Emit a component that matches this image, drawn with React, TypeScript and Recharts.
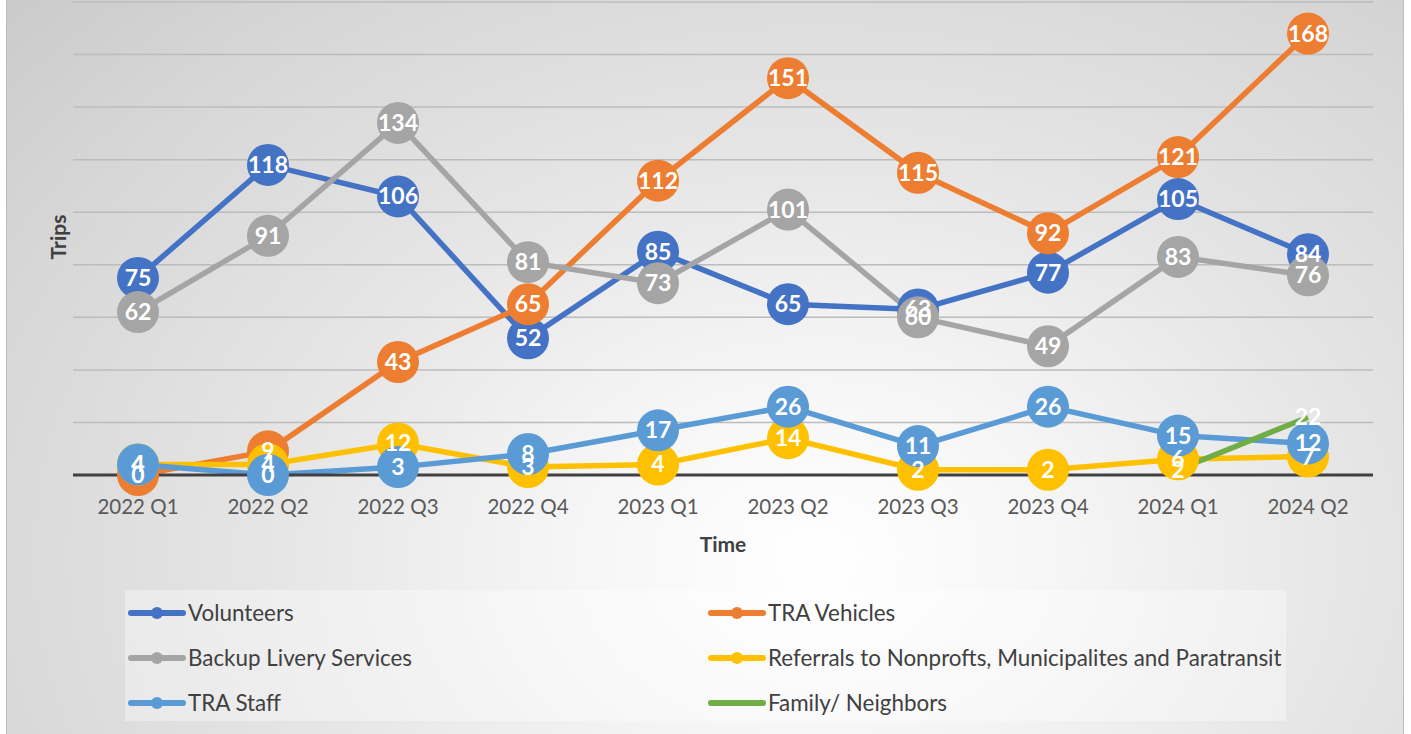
import { CartesianGrid, LabelList, Line, LineChart, XAxis, YAxis } from 'recharts'

const quarters = [
  '2022 Q1', '2022 Q2', '2022 Q3', '2022 Q4', '2023 Q1',
  '2023 Q2', '2023 Q3', '2023 Q4', '2024 Q1', '2024 Q2',
]
const volunteers = [75, 118, 106, 52, 85, 65, 63, 77, 105, 84]
const traVehicles = [0, 9, 43, 65, 112, 151, 115, 92, 121, 168]
const backupLivery = [62, 91, 134, 81, 73, 101, 60, 49, 83, 76]
const referrals = [4, 4, 12, 3, 4, 14, 2, 2, 6, 7]
const traStaff = [4, 0, 3, 8, 17, 26, 11, 26, 15, 12]
const family: (number | null)[] = [null, null, null, null, null, null, null, null, 2, 22]
const yTicks = [0, 20, 40, 60, 80, 100, 120, 140, 160, 180]

const series = [
  { key: 'volunteers', name: 'Volunteers', color: '#4472C4', marker: true },
  { key: 'traVehicles', name: 'TRA Vehicles', color: '#ED7D31', marker: true },
  { key: 'backupLivery', name: 'Backup Livery Services', color: '#A5A5A5', marker: true },
  { key: 'referrals', name: 'Referrals to Nonprofts, Municipalites and Paratransit', color: '#FFC000', marker: true },
  { key: 'traStaff', name: 'TRA Staff', color: '#5B9BD5', marker: true },
  { key: 'family', name: 'Family/ Neighbors', color: '#70AD47', marker: false },
]

const data = quarters.map((q, i) => ({
  q,
  volunteers: volunteers[i],
  traVehicles: traVehicles[i],
  backupLivery: backupLivery[i],
  referrals: referrals[i],
  traStaff: traStaff[i],
  family: family[i],
}))

const FONT = 'Lato, "Open Sans", sans-serif'

function PointLabel(props: any) {
  const { x, y, value } = props
  if (value === null || value === undefined) return null
  return (
    <text
      x={x}
      y={y}
      dy={8}
      textAnchor="middle"
      fill="#ffffff"
      fontSize={23}
      fontWeight={700}
      fontFamily={FONT}
    >
      {value}
    </text>
  )
}

function LegendIcon({ color, marker }: { color: string; marker: boolean }) {
  return (
    <svg width={58} height={12} style={{ marginRight: 2 }}>
      <line x1={3} y1={6} x2={55} y2={6} stroke={color} strokeWidth={6} strokeLinecap="round" />
      {marker && <circle cx={29} cy={6} r={6} fill={color} />}
    </svg>
  )
}

export default function App() {
  return (
    <div style={{ position: 'fixed', left: 0, top: 0, width: 1411, height: 734, background: '#fff', overflow: 'hidden' }}>
      <div
        style={{
          position: 'absolute',
          left: 6,
          top: 0,
          width: 1398,
          height: 734,
          borderLeft: '1.5px solid #bdbdbd',
          borderRight: '1.5px solid #bdbdbd',
          boxSizing: 'border-box',
          background:
            'radial-gradient(ellipse 85% 120% at 58% 76%, #ffffff 0%, #f6f6f6 20%, #e6e6e6 45%, #d6d6d6 75%, #c6c6c6 100%)',
        }}
      />
      <div style={{ position: 'absolute', left: 0, top: 0 }}>
        <LineChart
          width={1411}
          height={734}
          data={data}
          margin={{ top: 2, right: 38, left: 73, bottom: 199 }}
        >
          <CartesianGrid vertical={false} stroke="#bcbcbc" strokeWidth={1.5} />
          <XAxis
            dataKey="q"
            height={60}
            padding={{ left: 65, right: 65 }}
            axisLine={{ stroke: '#404040', strokeWidth: 3 }}
            tickLine={false}
            tickMargin={18}
            tick={{ fill: '#595959', fontSize: 20.5, fontFamily: FONT }}
          />
          <YAxis
            width={0}
            domain={[0, 180]}
            ticks={yTicks}
            tick={() => <g />}
            axisLine={false}
            tickLine={false}
          />
          {series.map((s) => (
            <Line
              key={s.key}
              dataKey={s.key}
              name={s.name}
              stroke={s.color}
              strokeWidth={5.5}
              dot={s.marker ? { r: 21, fill: s.color, stroke: 'none' } : false}
              activeDot={false}
              isAnimationActive={false}
            />
          ))}
          {/* labels drawn on top of every series, like Excel does */}
          {series.map((s) => (
            <Line
              key={s.key + '-labels'}
              dataKey={s.key}
              stroke="none"
              dot={false}
              activeDot={false}
              legendType="none"
              isAnimationActive={false}
            >
              <LabelList dataKey={s.key} content={<PointLabel />} />
            </Line>
          ))}
        </LineChart>
      </div>

      <div
        style={{
          position: 'absolute',
          left: 57,
          top: 237,
          transform: 'translate(-50%, -50%) rotate(-90deg)',
          fontFamily: FONT,
          fontWeight: 700,
          fontSize: 21,
          color: '#404040',
        }}
      >
        Trips
      </div>
      <div
        style={{
          position: 'absolute',
          left: 723,
          top: 543,
          transform: 'translate(-50%, -50%)',
          fontFamily: FONT,
          fontWeight: 700,
          fontSize: 21,
          color: '#404040',
        }}
      >
        Time
      </div>

      <div
        style={{
          position: 'absolute',
          left: 125,
          top: 590,
          width: 1161,
          height: 131,
          background: 'rgba(255,255,255,0.35)',
          display: 'grid',
          gridTemplateColumns: '580px 580px',
          gridAutoRows: 45,
          boxSizing: 'border-box',
          fontFamily: FONT,
          fontSize: 22.4,
          color: '#404040',
        }}
      >
        {series.map((s) => (
          <div key={s.key} style={{ display: 'flex', alignItems: 'center', paddingLeft: 3, whiteSpace: 'nowrap' }}>
            <LegendIcon color={s.color} marker={s.marker} />
            <span>{s.name}</span>
          </div>
        ))}
      </div>
    </div>
  )
}
